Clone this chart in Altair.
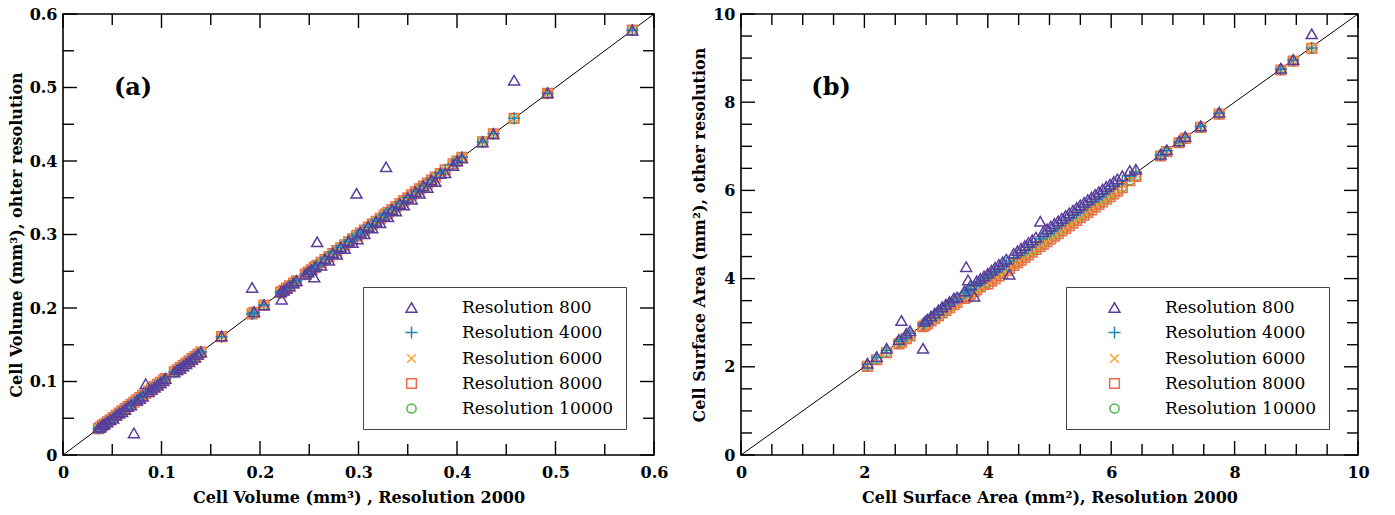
import altair as alt
import pandas as pd

SERIF = "DejaVu Serif"

# ---------------- legend / series ----------------
SERIES = ["Resolution 800", "Resolution 4000", "Resolution 6000",
          "Resolution 8000", "Resolution 10000"]
COLORS = ["#5b3c9b", "#2287b3", "#f9a431", "#ee6a48", "#4cb748"]
SHAPES = ["triangle-up",
          "M-1.15,0L1.15,0M0,-1.15L0,1.15",
          "M-0.85,-0.85L0.85,0.85M-0.85,0.85L0.85,-0.85",
          "square", "circle"]
SIZES = [120, 85, 85, 85, 85]

# ---------------- panel (a): cell volume ----------------
xa = [0.036, 0.038, 0.040, 0.042, 0.045, 0.048, 0.051, 0.054, 0.057, 0.060,
      0.063, 0.066, 0.069, 0.072, 0.075, 0.078, 0.081, 0.084, 0.087, 0.090,
      0.093, 0.096, 0.099, 0.102, 0.104, 0.113, 0.116, 0.119, 0.122, 0.125,
      0.128, 0.131, 0.134, 0.137, 0.140, 0.161, 0.192, 0.194, 0.204, 0.221,
      0.222, 0.224, 0.227, 0.230, 0.234, 0.237, 0.246, 0.249, 0.252, 0.255,
      0.256, 0.258, 0.262, 0.266, 0.270, 0.274, 0.278, 0.282, 0.286, 0.290,
      0.294, 0.298, 0.299, 0.302, 0.306, 0.310, 0.314, 0.318, 0.322, 0.326,
      0.328, 0.330, 0.334, 0.338, 0.342, 0.346, 0.350, 0.354, 0.358, 0.362,
      0.366, 0.370, 0.374, 0.378, 0.383, 0.388, 0.396, 0.400, 0.405, 0.426,
      0.437, 0.458, 0.492, 0.578]
ya_800 = [0.037, 0.038, 0.041, 0.042, 0.045, 0.048, 0.050, 0.054, 0.057, 0.059,
          0.062, 0.066, 0.068, 0.030, 0.074, 0.077, 0.080, 0.097, 0.086, 0.089,
          0.092, 0.095, 0.098, 0.101, 0.104, 0.113, 0.116, 0.118, 0.121, 0.124,
          0.127, 0.130, 0.133, 0.137, 0.140, 0.162, 0.228, 0.195, 0.204, 0.222,
          0.212, 0.224, 0.227, 0.230, 0.234, 0.237, 0.246, 0.249, 0.252, 0.242,
          0.256, 0.290, 0.258, 0.267, 0.265, 0.275, 0.273, 0.283, 0.281, 0.291,
          0.289, 0.356, 0.294, 0.303, 0.301, 0.311, 0.309, 0.318, 0.316, 0.325,
          0.392, 0.324, 0.334, 0.332, 0.342, 0.340, 0.350, 0.348, 0.358, 0.356,
          0.366, 0.364, 0.374, 0.372, 0.383, 0.384, 0.394, 0.400, 0.404, 0.426,
          0.437, 0.510, 0.493, 0.578]
# resolutions 4000-10000 coincide with each other within reading accuracy
ya_fine = [0.036, 0.038, 0.040, 0.042, 0.045, 0.048, 0.051, 0.054, 0.057, 0.060,
           0.063, 0.066, 0.069, 0.072, 0.075, 0.078, 0.081, 0.084, 0.087, 0.090,
           0.093, 0.096, 0.099, 0.102, 0.104, 0.113, 0.116, 0.119, 0.122, 0.125,
           0.128, 0.131, 0.134, 0.137, 0.140, 0.161, 0.192, 0.194, 0.204, 0.221,
           0.222, 0.224, 0.227, 0.230, 0.234, 0.237, 0.246, 0.249, 0.252, 0.255,
           0.256, 0.258, 0.262, 0.266, 0.270, 0.274, 0.278, 0.282, 0.286, 0.290,
           0.294, 0.298, 0.299, 0.302, 0.306, 0.310, 0.314, 0.318, 0.322, 0.326,
           0.328, 0.330, 0.334, 0.338, 0.342, 0.346, 0.350, 0.354, 0.358, 0.362,
           0.366, 0.370, 0.374, 0.378, 0.383, 0.388, 0.396, 0.400, 0.405, 0.426,
           0.437, 0.458, 0.492, 0.578]
a_major = [0, 0.1, 0.2, 0.3, 0.4, 0.5, 0.6]
a_minor = [0.05, 0.15, 0.25, 0.35, 0.45, 0.55]
a_domain = [0, 0.6]
a_label_x = [0.0711]
a_label_y = [0.499]

# ---------------- panel (b): cell surface area ----------------
xb = [2.05, 2.20, 2.36, 2.56, 2.60, 2.68, 2.74, 2.95, 2.98, 3.02,
      3.08, 3.14, 3.20, 3.26, 3.32, 3.38, 3.45, 3.50, 3.62, 3.65,
      3.68, 3.72, 3.78, 3.82, 3.88, 3.94, 4.00, 4.06, 4.12, 4.18,
      4.24, 4.30, 4.35, 4.42, 4.48, 4.54, 4.60, 4.66, 4.72, 4.78,
      4.85, 4.90, 4.96, 5.02, 5.08, 5.14, 5.20, 5.26, 5.32, 5.38,
      5.44, 5.50, 5.56, 5.62, 5.68, 5.74, 5.80, 5.86, 5.92, 5.98,
      6.04, 6.10, 6.18, 6.30, 6.40, 6.80, 6.90, 7.10, 7.20, 7.45,
      7.75, 8.75, 8.95, 9.25]
yb_800 = [2.08, 2.23, 2.42, 2.62, 3.05, 2.76, 2.82, 2.42, 3.03, 3.08,
          3.15, 3.22, 3.29, 3.36, 3.42, 3.48, 3.56, 3.58, 3.72, 4.27,
          3.97, 3.85, 3.60, 3.95, 4.00, 4.06, 4.12, 4.19, 4.26, 4.32,
          4.38, 4.44, 4.10, 4.57, 4.63, 4.69, 4.75, 4.82, 4.88, 4.94,
          5.30, 5.07, 5.13, 5.19, 5.25, 5.31, 5.37, 5.43, 5.49, 5.55,
          5.61, 5.67, 5.73, 5.79, 5.85, 5.91, 5.97, 6.03, 6.09, 6.14,
          6.20, 6.26, 6.33, 6.45, 6.48, 6.82, 6.92, 7.12, 7.22, 7.46,
          7.77, 8.77, 8.97, 9.55]
yb_4000 = [2.06, 2.21, 2.37, 2.58, 2.62, 2.70, 2.76, 2.97, 3.00, 3.05,
           3.11, 3.17, 3.23, 3.30, 3.36, 3.42, 3.49, 3.54, 3.67, 3.70,
           3.73, 3.77, 3.83, 3.87, 3.93, 3.99, 4.05, 4.11, 4.17, 4.23,
           4.29, 4.35, 4.40, 4.47, 4.53, 4.59, 4.65, 4.71, 4.77, 4.83,
           4.90, 4.95, 5.01, 5.07, 5.13, 5.19, 5.25, 5.31, 5.37, 5.43,
           5.49, 5.55, 5.61, 5.67, 5.73, 5.79, 5.85, 5.91, 5.97, 6.03,
           6.09, 6.15, 6.22, 6.32, 6.41, 6.80, 6.90, 7.10, 7.20, 7.45,
           7.75, 8.75, 8.95, 9.23]
yb_6000 = [2.04, 2.19, 2.35, 2.55, 2.59, 2.67, 2.73, 2.94, 2.97, 3.01,
           3.07, 3.13, 3.19, 3.25, 3.31, 3.37, 3.44, 3.49, 3.59, 3.62,
           3.65, 3.69, 3.75, 3.79, 3.85, 3.91, 3.95, 4.01, 4.07, 4.13,
           4.19, 4.25, 4.30, 4.37, 4.43, 4.49, 4.55, 4.61, 4.67, 4.73,
           4.80, 4.85, 4.91, 4.97, 5.03, 5.09, 5.15, 5.21, 5.27, 5.33,
           5.39, 5.45, 5.51, 5.57, 5.63, 5.69, 5.75, 5.81, 5.87, 5.93,
           5.99, 6.05, 6.13, 6.28, 6.38, 6.79, 6.89, 7.09, 7.19, 7.44,
           7.74, 8.74, 8.94, 9.23]
yb_8000 = [2.01, 2.16, 2.32, 2.52, 2.56, 2.64, 2.70, 2.91, 2.94, 2.98,
           3.04, 3.10, 3.16, 3.22, 3.28, 3.34, 3.41, 3.46, 3.55, 3.58,
           3.61, 3.65, 3.71, 3.75, 3.81, 3.87, 3.88, 3.94, 4.00, 4.06,
           4.12, 4.18, 4.23, 4.30, 4.36, 4.42, 4.48, 4.54, 4.60, 4.66,
           4.73, 4.78, 4.84, 4.90, 4.96, 5.02, 5.08, 5.14, 5.20, 5.26,
           5.32, 5.38, 5.44, 5.50, 5.56, 5.62, 5.68, 5.74, 5.80, 5.86,
           5.92, 5.98, 6.06, 6.22, 6.32, 6.78, 6.88, 7.08, 7.18, 7.43,
           7.73, 8.73, 8.93, 9.22]
yb_10000 = [2.02, 2.17, 2.33, 2.53, 2.57, 2.65, 2.71, 2.92, 2.95, 2.99,
            3.05, 3.11, 3.17, 3.23, 3.29, 3.35, 3.42, 3.47, 3.56, 3.59,
            3.62, 3.66, 3.72, 3.76, 3.82, 3.88, 3.90, 3.96, 4.02, 4.08,
            4.14, 4.20, 4.25, 4.32, 4.38, 4.44, 4.50, 4.56, 4.62, 4.68,
            4.75, 4.80, 4.86, 4.92, 4.98, 5.04, 5.10, 5.16, 5.22, 5.28,
            5.34, 5.40, 5.46, 5.52, 5.58, 5.64, 5.70, 5.76, 5.82, 5.88,
            5.94, 6.00, 6.08, 6.23, 6.33, 6.79, 6.89, 7.09, 7.19, 7.44,
            7.74, 8.74, 8.94, 9.23]
b_major = [0, 2, 4, 6, 8, 10]
b_minor = [0.5, 1, 1.5, 2.5, 3, 3.5, 4.5, 5, 5.5, 6.5, 7, 7.5, 8.5, 9, 9.5]
b_domain = [0, 10]
b_label_x = [1.46]
b_label_y = [8.33]

H = 441
MAJ = 14
MIN = 11


def panel(x, ys, dom, major, minor, xtitle, ytitle, label, lx, ly, W, legx):
    rows = []
    # draw order: 10000 first ... 800 last (on top)
    for name in reversed(SERIES):
        for xv, yv in zip(x, ys[name]):
            rows.append({"x": xv, "y": yv, "series": name})
    pts = pd.DataFrame(rows)

    common = dict(values=major, format="~f", ticks=False, tickSize=0, domain=False,
                  grid=False, labelFlush=False, labelOverlap=False,
                  labelFont=SERIF, labelFontSize=16, labelFontWeight="bold",
                  labelColor="black", titleFont=SERIF, titleFontSize=16,
                  titleFontWeight="bold", titleColor="black")
    X = alt.X("x:Q", scale=alt.Scale(domain=dom, nice=False, zero=False),
              axis=alt.Axis(title=xtitle, labelPadding=9, titlePadding=9, **common))
    Y = alt.Y("y:Q", scale=alt.Scale(domain=dom, nice=False, zero=False),
              axis=alt.Axis(title=ytitle, labelPadding=6, titlePadding=5, **common))

    leg = alt.Legend(orient="none", legendX=legx, legendY=273, title=None,
                     labelFont=SERIF, labelFontSize=17, labelColor="black",
                     labelFontWeight="normal", labelLimit=300,
                     padding=12, rowPadding=7, symbolOffset=28, labelOffset=42,
                     strokeColor="#444444", symbolStrokeWidth=1.5)

    diag = alt.Chart(pd.DataFrame({"x": dom, "y": dom})).mark_line(
        color="black", strokeWidth=1).encode(x=X, y=Y)

    points = alt.Chart(pts).mark_point(filled=False, opacity=1, strokeWidth=1.5).encode(
        x=X, y=Y,
        color=alt.Color("series:N", scale=alt.Scale(domain=SERIES, range=COLORS), legend=leg),
        shape=alt.Shape("series:N", scale=alt.Scale(domain=SERIES, range=SHAPES), legend=leg),
        size=alt.Size("series:N", scale=alt.Scale(domain=SERIES, range=SIZES), legend=leg),
    )

    txt = alt.Chart(pd.DataFrame({"x": lx, "y": ly, "t": [label]})).mark_text(
        font=SERIF, fontSize=24, fontWeight="bold", color="black").encode(
        x=X, y=Y, text="t:N")

    def xt(vals, length):
        d = pd.DataFrame({"x": vals})
        bot = alt.Chart(d).mark_rule(color="black", strokeWidth=1.4).encode(
            x=X, y=alt.value(H), y2=alt.value(H - length))
        top = alt.Chart(d).mark_rule(color="black", strokeWidth=1.4).encode(
            x=X, y=alt.value(0), y2=alt.value(length))
        return [bot, top]

    def yt(vals, length):
        d = pd.DataFrame({"y": vals})
        left = alt.Chart(d).mark_rule(color="black", strokeWidth=1.4).encode(
            y=Y, x=alt.value(0), x2=alt.value(length))
        right = alt.Chart(d).mark_rule(color="black", strokeWidth=1.4).encode(
            y=Y, x=alt.value(W), x2=alt.value(W - length))
        return [left, right]

    layers = [diag] + xt(major, MAJ) + xt(minor, MIN) + yt(major, MAJ) + yt(minor, MIN) + [points, txt]
    return alt.layer(*layers).properties(width=W, height=H)


pa = panel(xa, {"Resolution 800": ya_800, "Resolution 4000": ya_fine,
                "Resolution 6000": ya_fine, "Resolution 8000": ya_fine,
                "Resolution 10000": ya_fine},
           a_domain, a_major, a_minor,
           "Cell Volume (mm³) , Resolution 2000",
           "Cell Volume (mm³), ohter resolution",
           "(a)", a_label_x, a_label_y, 591, 300)

pb = panel(xb, {"Resolution 800": yb_800, "Resolution 4000": yb_4000,
                "Resolution 6000": yb_6000, "Resolution 8000": yb_8000,
                "Resolution 10000": yb_10000},
           b_domain, b_major, b_minor,
           "Cell Surface Area (mm²), Resolution 2000",
           "Cell Surface Area (mm²), other resolution",
           "(b)", b_label_x, b_label_y, 617, 325)

chart = alt.hconcat(pa, pb, spacing=87, bounds="flush").resolve_scale(
    color="independent", shape="independent", size="independent"
).configure_view(
    stroke="black", strokeWidth=1.6
).configure_axis(
    labelFont=SERIF, labelFontSize=16, labelFontWeight="bold", labelColor="black",
    titleFont=SERIF, titleFontSize=16, titleFontWeight="bold", titleColor="black"
).configure_legend(
    labelFont=SERIF, labelFontSize=17, labelColor="black"
).properties(
    padding={"left": 7, "top": 5, "right": 5, "bottom": 4},
    background="white"
)

chart.save("out.html", embed_options={"renderer": "svg", "actions": False})
